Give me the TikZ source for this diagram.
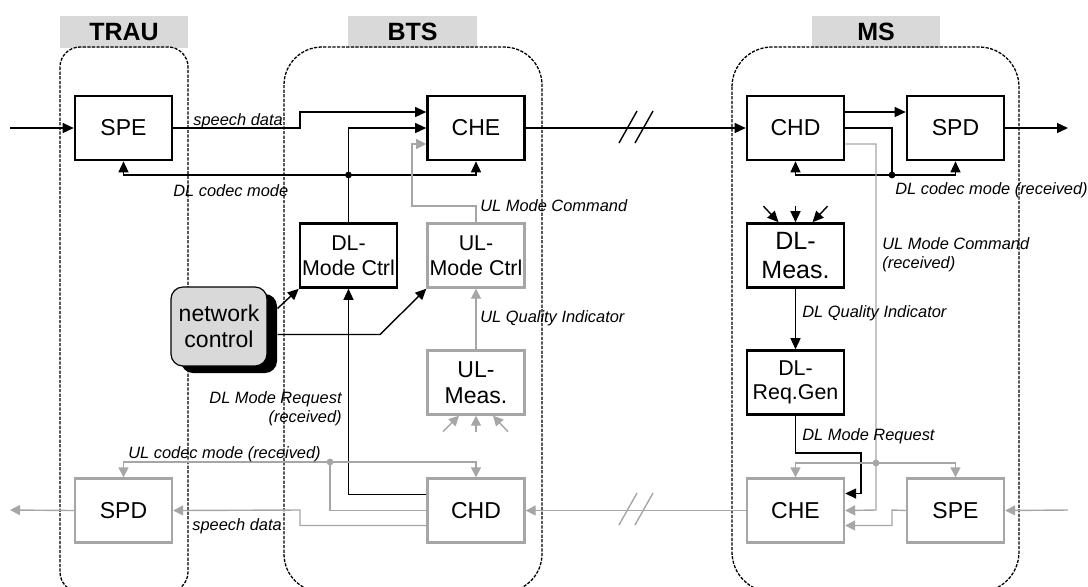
\documentclass[tikz,border=0pt]{standalone}
\usepackage{fontspec}
\setmainfont{Liberation Sans}
\usepackage{tikz}
\usetikzlibrary{arrows.meta}
\usetikzlibrary{calc, shadows}
\definecolor{line gray}{RGB}{166,166,166}
\definecolor{bar gray}{RGB}{217,217,217}
\tikzset{ 
black box/.style = { rectangle, draw = black, fill = white, line width = 1.3pt, minimum width = 48.5pt, minimum height = 32pt, inner sep = 0pt, align = center, font = \fontsize{11.5}{13}\selectfont },
gray box/.style = { black box, draw = line gray, line width = 1.2pt },
small text/.style = { font = \fontsize{10.7}{12.5}\selectfont },
network node/.style = { rectangle, draw = black, fill = bar gray, line width = 0.6pt, rounded corners = 6pt, minimum width = 48pt, minimum height = 39.5pt, inner sep = 0pt, align = center, font = \fontsize{11.5}{13}\selectfont, drop shadow = {shadow xshift = 5pt, shadow yshift = -3.5pt, fill = black, opacity = 1} },
unit title/.style = { rectangle, fill = bar gray, minimum width = 64pt, minimum height = 16pt, font = \fontsize{12.5}{14}\selectfont\bfseries },
unit frame/.style = { draw = black, line width = 0.65pt, dash pattern = on 1.6pt off 0.7pt },
flow label/.style = { inner sep = 0pt, align = left, font = \fontsize{8.2}{9.5}\selectfont\itshape },
black line/.style = { draw = black, line width = 0.7pt },
gray line/.style = { draw = line gray, line width = 0.7pt },
black arrow/.style = { black line, -{Triangle[length = 5.5pt, width = 5pt]} },
gray arrow/.style = { gray line, -{Triangle[length = 5pt, width = 5pt]} },
}
\tikzset{
pics/break mark/.style = {
        code = {
        \draw[#1, line width = 0.7pt] (-17, 15) -- (1, -17) (-1, 15) -- (17, -17);
        }
    }
}

\begin{document}
\begin{tikzpicture}[x = 0.5pt, y = -0.5pt]
      \useasboundingbox (0, 0) rectangle (1088, 586);
      \clip (0, 0) rectangle (1088, 586);
      % units
      \node[unit title] (trau) at (124, 32) {TRAU};
      \node[unit title, minimum width = 64.5pt] (bts) at (412.5, 32) {BTS};
      \node[unit title] (ms) at (876, 32) {MS};
      \draw[unit frame, rounded corners = 10pt] (60, 47) rectangle (188, 592);
      \draw[unit frame, rounded corners = 19pt] (284, 47) rectangle (542, 592);
      \draw[unit frame, rounded corners = 20pt] (732, 47) rectangle (1019, 592);

      % downlink
      \node[black box] (tspe) at (123.5, 128) {SPE};
      \node[black box] (bche) at (476, 128) {CHE};
      \node[black box] (mchd) at (795.5, 128) {CHD};
      \node[black box] (mspd) at (955.5, 128) {SPD};
      \node[black box, small text] (dlmc) at (348.5, 255.5) {DL-\\Mode Ctrl};
      \node[black box, font = \fontsize{12.5}{14.5}\selectfont] (dlms) at (795.5, 255.5) {DL-\\Meas.};
      \node[black box, small text, font = \fontsize{10.7}{12}\selectfont] (dlrg) at (795.5, 382.5) {DL-\\Req.Gen};
      \node[network node] (nc) at (219, 326.5) {network\\control};

      % uplink
      \node[gray box, small text] (ulmc) at (476, 255.5) {UL-\\Mode Ctrl};
      \node[gray box, font = \fontsize{11.5}{13}\selectfont] (ulms) at (476, 382.5) {UL-\\Meas.};
      \node[gray box] (tspd) at (123.5, 510.5) {SPD};
      \node[gray box] (bchd) at (476, 510.5) {CHD};
      \node[gray box] (mche) at (795.5, 510.5) {CHE};
      \node[gray box] (mspe) at (955.5, 510.5) {SPE};

      \coordinate (tin) at (10, 128);
      \coordinate (mout) at (1068, 128);
      \coordinate (min) at (1068, 510);
      \coordinate (tout) at (10, 510);
      \coordinate (dlj) at (348.5, 175);
      \coordinate (mdlj) at (892, 175);
      \coordinate (ulj) at (330, 462);
      \coordinate (mulj) at (876, 463);

      % downlink connectors
      \draw[black arrow] (tin) -- (tspe.west);
      \draw[black arrow] (tspe.east) -- (300, 128) |- ($(bche.west) + (0, -16)$);
      \draw[black arrow] (dlmc.north) |- (bche.west);
      \draw[black arrow] (dlj) -| (tspe.south);
      \draw[black arrow] (dlj) -| (bche.south);
      \fill (dlj) circle [radius = 1.7pt];
      \draw[black arrow] (bche.east) -- (mchd.west);
      \draw (636, 128) pic{break mark = black};
      \draw[black arrow] ($(mchd.east) + (0, -16)$) -- ($(mspd.west) + (0, -16)$);
      \draw[black line] (mchd.east) -| (mdlj);
      \draw[black arrow] (mdlj) -| (mchd.south);
      \draw[black arrow] (mdlj) -| (mspd.south);
      \fill (mdlj) circle [radius = 1.7pt];
      \draw[black arrow] (mspd.east) -- (mout);
      \foreach \a/\b in {-17/-32, 0/0, 17/32}
          \draw[black arrow] ($(dlms.north) + (\b, -16)$) -- ($(dlms.north) + (\a, 0)$);
      \draw[black arrow] (dlms) -- (dlrg);
      \draw[black arrow] (dlrg.south) |- (861, 453) |- ($(mche.east) + (0, -17)$);
      \draw[black arrow] ($(bchd.west) + (0, -16)$) -| (dlmc.south);
      \draw[black arrow] ($(nc.north east) + (10, 22)$) -- (dlmc.south west);
      \draw[black arrow] ($(nc.east) + (10, 8)$) -- (380, 334.5) -- (ulmc.south west);

      % uplink connectors
      \draw[gray arrow] (ulmc.north) |- (412, 206) |- ($(bche.west) + (0, 16)$);
      \draw[gray arrow] (ulms) -- (ulmc);
      \foreach \a/\b in {-17/-33, 0/0, 17/32}
          \draw[gray arrow] ($(ulms.south) + (\b, 16)$) -- ($(ulms.south) + (\a, 0)$);
      \draw[gray arrow] ($(mchd.east) + (0, 16)$) -| (876, 510) -- (mche.east);
      \draw[gray arrow] (mulj) -| (mche.north);
      \draw[gray arrow] (mulj) -| (mspe.north);
      \fill[line gray] (mulj) circle [radius = 1.7pt];
      \draw[gray arrow] (min) -- (mspe.east);
      \draw[gray arrow] (mspe.west) -- (892, 510) |- ($(mche.east) + (0, 15)$);
      \draw[gray arrow] (mche.west) -- (bchd.east);
      \draw (636, 510) pic{break mark = line gray};
      \draw[gray line] (bchd.west) -| (ulj);
      \draw[gray arrow] (ulj) -| (tspd.north);
      \draw[gray arrow] (ulj) -| (bchd.north);
      \fill[line gray] (ulj) circle [radius = 1.7pt];
      \draw[gray arrow] ($(bchd.west) + (0, 15)$) -| (300, 510) -- (tspd.east);
      \draw[gray arrow] (tspd.west) -- (tout);

      % labels
      \node[flow label, anchor = west] (lsd1) at (193, 121) {speech data};
      \node[flow label, anchor = west] (ldc) at (173, 191) {DL codec mode};
      \node[flow label, anchor = west] (lumc) at (480, 206) {UL Mode Command};
      \node[flow label, anchor = west] (luqi) at (480, 318) {UL Quality Indicator};
      \node[flow label, anchor = north east, align = right] (ldmr) at (342, 391) {DL Mode Request\\(received)};
      \node[flow label, anchor = west] (luc) at (128, 454) {UL codec mode (received)};
      \node[flow label, anchor = west] (lsd2) at (192, 526) {speech data};
      \node[flow label, anchor = west] (ldcr) at (895, 190) {DL codec mode (received)};
      \node[flow label, anchor = north west] (lumcr) at (882, 237) {UL Mode Command\\(received)};
      \node[flow label, anchor = west] (ldqi) at (802, 313) {DL Quality Indicator};
      \node[flow label, anchor = west] (ldmq) at (802, 436) {DL Mode Request};
\end{tikzpicture}
\end{document}
